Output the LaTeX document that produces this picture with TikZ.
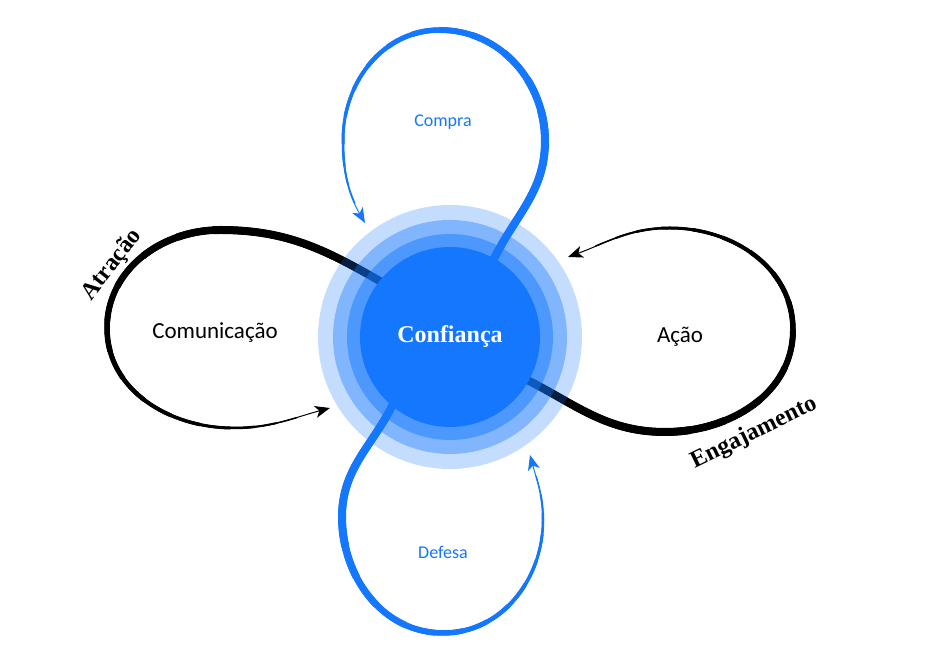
\documentclass[tikz,border=0pt]{standalone}
\usepackage{fontspec}
\setmainfont{Carlito}
\newfontfamily\tagfont{Liberation Serif}
\usetikzlibrary{arrows.meta}
\definecolor{trust}{HTML}{1477FD}
% width / share of the loop drawn at that width
\newcommand\taper{8/0.30,7.5/0.36,7/0.425,6.5/0.49,6/0.55,5.5/0.60,5/0.65,4.5/0.70,4/0.75,3.5/0.80,3/0.85,2.5/0.89,2/0.925,1.5/0.96}

\begin{document}
\begin{tikzpicture}[x=1pt,y=1pt,
    tip/.style={-{Stealth[length=15pt,width=12pt,inset=4pt]},line width=1pt},
    lbl/.style={font=\fontsize{23}{26}\selectfont},
    blbl/.style={text=trust,font=\fontsize{18}{21}\selectfont},
    tag/.style={font=\tagfont\bfseries\fontsize{24}{27}\selectfont}]
  \useasboundingbox (0,0) rectangle (934,655);
  % left loop
  \coordinate (a0) at (385,371);
  \coordinate (a2) at (220,425);
  \coordinate (a3) at (107,327);
  \coordinate (a4) at (233,227);
  \coordinate (a5) at (330,247);
  \foreach \w/\f in \taper {
    \pgfmathsetmacro\len{\f*610}
    \draw[line width=\w pt,dash pattern=on \len pt off 2000pt] (a0) to[out=150,in=0] (a2)
      to[out=180,in=90] (a3) to[out=270,in=180] (a4) to[out=0,in=195] (a5);
  }
  \draw[tip] (a0) to[out=150,in=0] (a2)
    to[out=180,in=90] (a3) to[out=270,in=180] (a4) to[out=0,in=195] (a5);
  % right loop
  \coordinate (b0) at (515,281);
  \coordinate (b2) at (665,223);
  \coordinate (b3) at (793,325);
  \coordinate (b4) at (670,427);
  \coordinate (b5) at (568,398);
  \foreach \w/\f in \taper {
    \pgfmathsetmacro\len{\f*625}
    \draw[line width=\w pt,dash pattern=on \len pt off 2000pt] (b0) to[out=335,in=180] (b2)
      to[out=0,in=270] (b3) to[out=90,in=0] (b4) to[out=180,in=20] (b5);
  }
  \draw[tip] (b0) to[out=335,in=180] (b2)
    to[out=0,in=270] (b3) to[out=90,in=0] (b4) to[out=180,in=20] (b5);
  % top loop
  \coordinate (c0) at (492,392);
  \coordinate (c2) at (545,514);
  \coordinate (c3) at (440,625);
  \coordinate (c4) at (343,515);
  \coordinate (c5) at (365,432);
  \foreach \w/\f in \taper {
    \pgfmathsetmacro\len{\f*555}
    \draw[trust,line width=\w pt,dash pattern=on \len pt off 2000pt] (c0) to[out=65,in=270] (c2)
      to[out=90,in=0] (c3) to[out=180,in=90] (c4) to[out=270,in=120] (c5);
  }
  \draw[tip,trust] (c0) to[out=65,in=270] (c2)
    to[out=90,in=0] (c3) to[out=180,in=90] (c4) to[out=270,in=120] (c5);
  % bottom loop
  \coordinate (d0) at (395,255);
  \coordinate (d2) at (342,138);
  \coordinate (d3) at (443,22);
  \coordinate (d4) at (543,135);
  \coordinate (d5) at (530,200);
  \foreach \w/\f in \taper {
    \pgfmathsetmacro\len{\f*535}
    \draw[trust,line width=\w pt,dash pattern=on \len pt off 2000pt] (d0) to[out=245,in=90] (d2)
      to[out=270,in=180] (d3) to[out=0,in=270] (d4) to[out=90,in=285] (d5);
  }
  \draw[tip,trust] (d0) to[out=245,in=90] (d2)
    to[out=270,in=180] (d3) to[out=0,in=270] (d4) to[out=90,in=285] (d5);
  % rings
  \coordinate (ctr) at (450,318);
  \fill[trust,fill opacity=0.25] (ctr) circle (132pt);
  \fill[trust,fill opacity=0.38] (ctr) circle (117pt);
  \fill[trust,fill opacity=0.48] (ctr) circle (103pt);
  \node[circle,fill=trust,minimum size=180pt,inner sep=0pt,text=white,tag] (conf) at (ctr) {Confiança};
  % labels
  \node[lbl] (comm) at (215,322) {Comunicação};
  \node[lbl] (acao) at (680,318) {Ação};
  \node[blbl] (compra) at (443,533) {Compra};
  \node[blbl] (defesa) at (443,103) {Defesa};
  \node[tag,rotate=52] (atr) at (112,390) {Atração};
  \node[tag,rotate=26] (eng) at (754,222) {Engajamento};
\end{tikzpicture}
\end{document}
